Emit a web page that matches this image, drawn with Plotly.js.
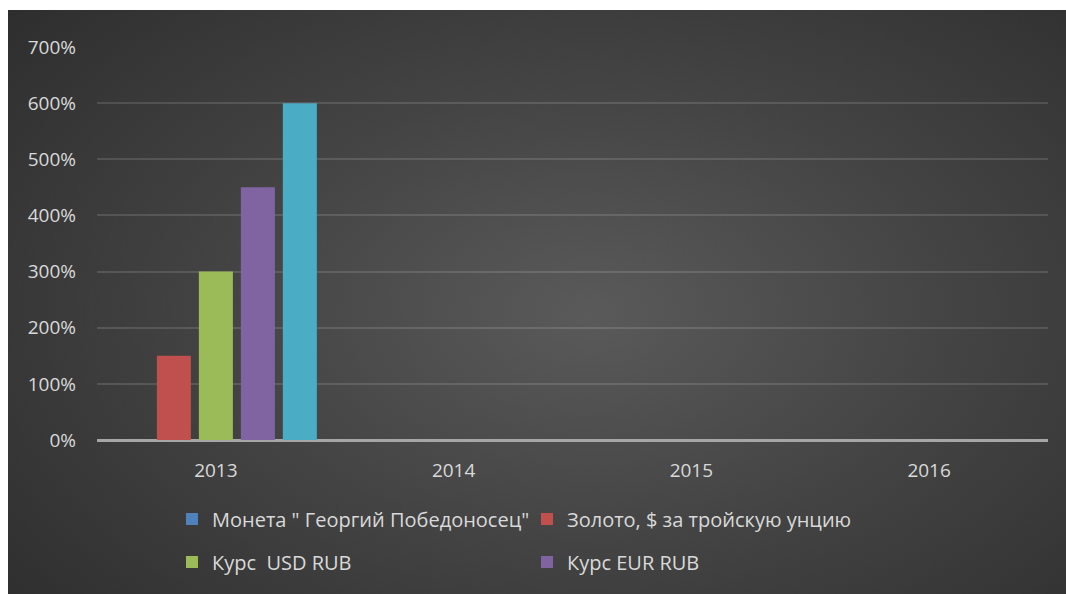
<!DOCTYPE html>
<html>
<head>
<meta charset="utf-8">
<script src="https://cdn.plot.ly/plotly-3.0.1.min.js"></script>
<style>
  html, body { margin: 0; padding: 0; background: #ffffff; }
  #chart {
    position: absolute; left: 8px; top: 10px; width: 1058px; height: 584px;
    background: radial-gradient(ellipse 75% 85% at 55% 52%, #5a5a5a 0%, #444444 45%, #2c2c2c 100%);
  }
</style>
</head>
<body>
<div id="chart"></div>
<script>
const years = ['2013', '2014', '2015', '2016'];
const seriesNames = ['Монета " Георгий Победоносец"', 'Золото, $ за тройскую унцию', 'Курс  USD RUB', 'Курс EUR RUB', 'Ряд 5'];
const coinValues = [0, 0, 0, 0];
const goldValues = [1.5, 0, 0, 0];
const usdValues = [3.0, 0, 0, 0];
const eurValues = [4.5, 0, 0, 0];
const fifthValues = [6.0, 0, 0, 0];
const yTicks = [0, 1, 2, 3, 4, 5, 6, 7];

const colors = ['#4f81bd', '#c0504d', '#9bbb59', '#8064a2', '#4bacc6'];
const allValues = [coinValues, goldValues, usdValues, eurValues, fifthValues];
const legendIds = ['legend', 'legend', 'legend2', 'legend2', 'legend'];

const traces = allValues.map((vals, i) => ({
  type: 'bar',
  name: seriesNames[i],
  x: years,
  y: vals,
  marker: { color: colors[i], line: { width: 0 } },
  legend: legendIds[i],
  showlegend: i < 4,
  hoverinfo: 'skip'
}));

const tickFont = { family: 'Open Sans, Noto Sans, sans-serif', size: 19, color: '#d9d9d9' };
const legendFont = { family: 'Open Sans, Noto Sans, sans-serif', size: 20, color: '#d9d9d9' };

const layout = {
  width: 1058, height: 584,
  paper_bgcolor: 'rgba(0,0,0,0)',
  plot_bgcolor: 'rgba(0,0,0,0)',
  margin: { l: 89, r: 18, t: 37, b: 154 },
  barmode: 'group',
  bargap: 0.117,
  bargroupgap: 0.19,
  xaxis: {
    type: 'category',
    tickfont: tickFont,
    showgrid: false,
    showline: false,
    ticks: '',
    ticklabelstandoff: 17,
    zeroline: false,
    automargin: false
  },
  yaxis: {
    range: [0, 7],
    tickvals: yTicks,
    tickformat: '.0%',
    tickfont: tickFont,
    gridcolor: 'rgba(255,255,255,0.13)',
    gridwidth: 2,
    zeroline: true,
    zerolinecolor: '#a6a6a6',
    zerolinewidth: 3,
    ticks: '',
    ticklabelstandoff: 20,
    showline: false,
    automargin: false
  },
  legend: {
    orientation: 'h',
    x: 0.155, xanchor: 'left', xref: 'container',
    y: 0.162, yanchor: 'top', yref: 'container',
    entrywidth: 310, entrywidthmode: 'pixels',
    font: legendFont,
    bgcolor: 'rgba(0,0,0,0)',
    itemclick: false
  },
  legend2: {
    orientation: 'h',
    x: 0.155, xanchor: 'left', xref: 'container',
    y: 0.088, yanchor: 'top', yref: 'container',
    entrywidth: 310, entrywidthmode: 'pixels',
    font: legendFont,
    bgcolor: 'rgba(0,0,0,0)',
    itemclick: false
  },
  showlegend: true
};

Plotly.newPlot('chart', traces, layout, { displayModeBar: false, staticPlot: true });
</script>
</body>
</html>
